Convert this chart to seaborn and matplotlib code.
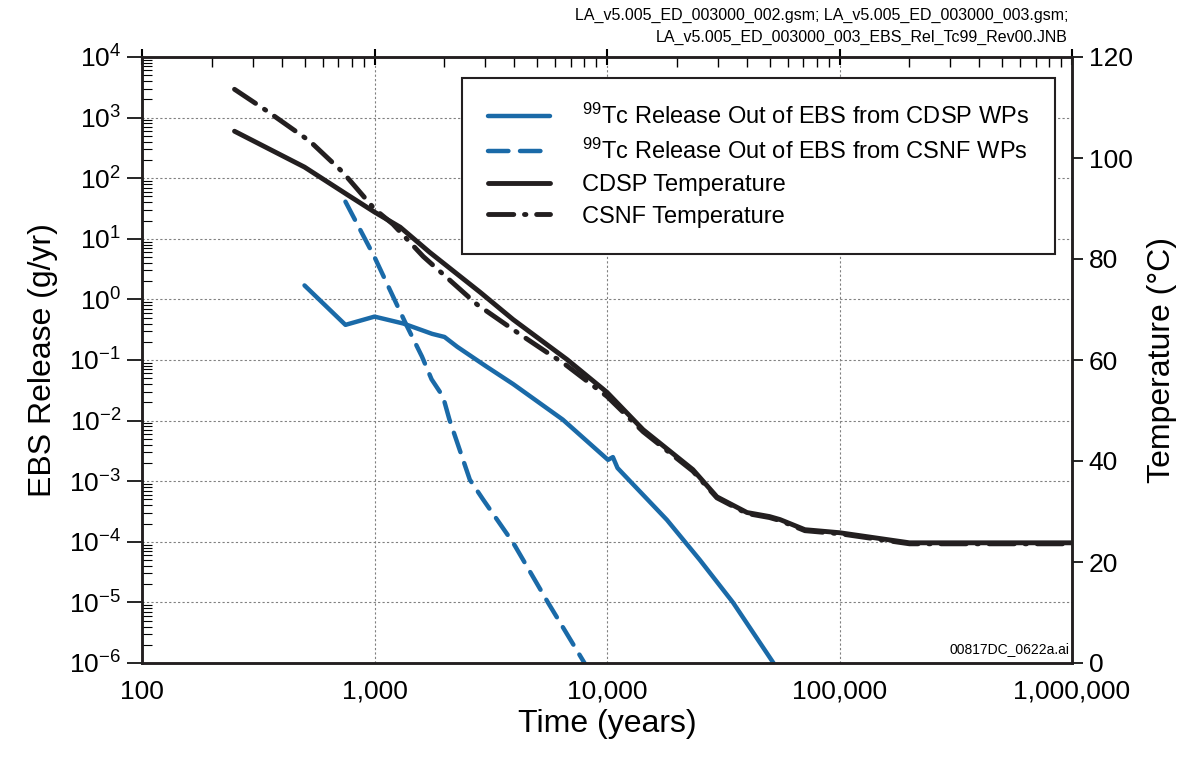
import numpy as np
import pandas as pd
import matplotlib
matplotlib.use("Agg")
import matplotlib.pyplot as plt
import seaborn as sns
from matplotlib.ticker import FixedLocator, FuncFormatter, LogLocator, NullFormatter, LogFormatterSciNotation

# ---------------- data ----------------
cdsp_rel_t = [500, 750, 1000, 1330, 1770, 2000, 2270, 3000, 3950, 6450, 10100, 10600, 11100, 18100, 25100, 34800, 52000]
cdsp_rel = [1.7, 0.38, 0.52, 0.40, 0.27, 0.24, 0.165, 0.08, 0.04, 0.0104, 0.00225, 0.0025, 0.00165, 2.3e-4, 5e-5, 1e-5, 1e-6]

csnf_rel_t = [750, 1000, 1380, 1600, 1760, 1970, 2100, 2570, 2930, 3950, 5570, 8000]
csnf_rel = [41, 5.0, 0.36, 0.114, 0.048, 0.025, 0.0104, 0.00106, 5e-4, 9.6e-5, 1e-5, 1e-6]

cdsp_temp_t = [250, 500, 760, 1000, 1290, 1730, 2850, 3950, 6730, 10000, 14300, 23400, 29700,
               40000, 50000, 55500, 71000, 100000, 200000, 1000000]
cdsp_temp = [105.3, 98.2, 92.8, 89.3, 86.3, 81.3, 73.4, 68.0, 60.1, 53.6, 46.2, 38.3, 32.9,
             29.8, 29.0, 28.4, 26.4, 25.8, 23.8, 23.8]

csnf_temp_t = [250, 345, 528, 730, 1000, 1200, 1620, 2760, 4220, 5860, 6450, 10000, 14300, 23400,
               29700, 40000, 50000, 55500, 71000, 100000, 200000, 1000000]
csnf_temp = [113.6, 109.3, 103.3, 97.2, 89.9, 86.9, 80.5, 71.0, 65.1, 60.7, 59.5, 52.8, 45.8, 38.0,
             32.7, 29.6, 28.8, 28.2, 26.2, 25.6, 23.6, 23.6]

x_ticks = [100, 1000, 10000, 100000, 1000000]
x_ticklabels = ["100", "1,000", "10,000", "100,000", "1,000,000"]
temp_ticks = [0, 20, 40, 60, 80, 100, 120]

labels = [r"$^{99}$Tc Release Out of EBS from CDSP WPs",
          r"$^{99}$Tc Release Out of EBS from CSNF WPs",
          "CDSP Temperature",
          "CSNF Temperature"]

# ---------------- style ----------------
sns.set_theme(style="white")
plt.rcParams['font.family'] = ['Liberation Sans', 'DejaVu Sans']
plt.rcParams['mathtext.fontset'] = 'custom'
plt.rcParams['mathtext.rm'] = 'Liberation Sans'
plt.rcParams['mathtext.it'] = 'Liberation Sans:italic'
plt.rcParams['mathtext.bf'] = 'Liberation Sans:bold'
plt.rcParams['axes.unicode_minus'] = True
plt.rcParams['text.color'] = 'black'
plt.rcParams['axes.labelcolor'] = 'black'
plt.rcParams['xtick.color'] = 'black'
plt.rcParams['ytick.color'] = 'black'

BLUE = '#1a6aa8'
BLACK = '#231f20'
LW = 3.2

fig = plt.figure(figsize=(11.8, 7.69), dpi=100)
ax = fig.add_axes([142/1180, 1 - 663/769, (1072-142)/1180, (663-57)/769])
ax2 = ax.twinx()

df1 = pd.DataFrame({"t": cdsp_rel_t, "v": cdsp_rel})
df2 = pd.DataFrame({"t": csnf_rel_t, "v": csnf_rel})
df3 = pd.DataFrame({"t": cdsp_temp_t, "v": cdsp_temp})
df4 = pd.DataFrame({"t": csnf_temp_t, "v": csnf_temp})

sns.lineplot(data=df1, x="t", y="v", ax=ax, color=BLUE, linewidth=LW, sort=False)
l1 = ax.lines[-1]
sns.lineplot(data=df2, x="t", y="v", ax=ax, color=BLUE, linewidth=LW, sort=False)
l2 = ax.lines[-1]
l2.set_dashes((4.6, 2.6))
l2.set_dash_capstyle('round')

sns.lineplot(data=df3, x="t", y="v", ax=ax2, color=BLACK, linewidth=LW + 0.3, sort=False)
l3 = ax2.lines[-1]
sns.lineplot(data=df4, x="t", y="v", ax=ax2, color=BLACK, linewidth=LW + 0.3, sort=False)
l4 = ax2.lines[-1]
l4.set_dashes((5.2, 2.2, 0.3, 2.2))
l4.set_dash_capstyle('round')

for l in (l1, l3):
    l.set_solid_capstyle('round')

# axes scales/limits
ax.set_xscale('log')
ax.set_yscale('log')
ax.set_xlim(100, 1e6)
ax.set_ylim(1e-6, 1e4)
ax2.set_ylim(0, 120)

# x ticks
ax.xaxis.set_major_locator(FixedLocator(x_ticks))
ax.xaxis.set_major_formatter(FuncFormatter(lambda v, p: x_ticklabels[x_ticks.index(int(round(v)))] if int(round(v)) in x_ticks else ""))
ax.xaxis.set_minor_locator(LogLocator(base=10, subs=np.arange(2, 10)))
ax.xaxis.set_minor_formatter(NullFormatter())

# y ticks
ax.yaxis.set_major_locator(LogLocator(base=10, numticks=20))
ax.yaxis.set_major_formatter(LogFormatterSciNotation())
ax.yaxis.set_minor_locator(LogLocator(base=10, subs=np.arange(2, 10), numticks=100))
ax.yaxis.set_minor_formatter(NullFormatter())

ax2.set_yticks(temp_ticks)
ax2.set_yticklabels([str(t) for t in temp_ticks])

ax.tick_params(axis='x', which='major', direction='inout', length=12, width=1.5, top=True,
               labelsize=19, pad=6, colors='black')
ax.tick_params(axis='x', which='minor', direction='in', length=7, width=1.0, top=True)
ax.tick_params(axis='y', which='major', direction='out', length=11, width=1.2, labelsize=19, pad=4, colors='black')
ax.tick_params(axis='y', which='minor', direction='in', length=7, width=0.8)
ax2.tick_params(axis='y', which='major', direction='out', length=8, width=1.2, labelsize=19, pad=4, colors='black')

for a in (ax, ax2):
    for s in a.spines.values():
        s.set_linewidth(1.8)
        s.set_color(BLACK)

# grid (dotted) on left axis
ax.grid(True, which='major', axis='both', linestyle=(0, (2, 2)), color='#808080', linewidth=0.8)
ax.set_axisbelow(True)

ax.set_xlabel("Time (years)", fontsize=23, labelpad=4)
ax.set_ylabel("EBS Release (g/yr)", fontsize=23, labelpad=8)
ax2.set_ylabel("Temperature (\u00b0C)", fontsize=23, labelpad=10)

leg = ax2.legend([l1, l2, l3, l4], labels, loc='upper right',
                 bbox_to_anchor=(0.982, 0.966), fontsize=17, frameon=True,
                 fancybox=False, framealpha=1, edgecolor=BLACK,
                 handlelength=2.65, handletextpad=1.35, labelspacing=0.42,
                 borderpad=1.1, borderaxespad=0)
leg.get_frame().set_linewidth(1.5)

fig.text(1068/1180, 1 - 15/769, "LA_v5.005_ED_003000_002.gsm; LA_v5.005_ED_003000_003.gsm;",
         ha='right', va='center', fontsize=11.5, color='black')
fig.text(1068/1180, 1 - 37/769, "LA_v5.005_ED_003000_003_EBS_Rel_Tc99_Rev00.JNB",
         ha='right', va='center', fontsize=11.5, color='black')
ax.text(0.9975, 0.012, "00817DC_0622a.ai", transform=ax.transAxes, ha='right', va='bottom',
        fontsize=10, color='black')

fig.savefig("out.png", dpi=100)
